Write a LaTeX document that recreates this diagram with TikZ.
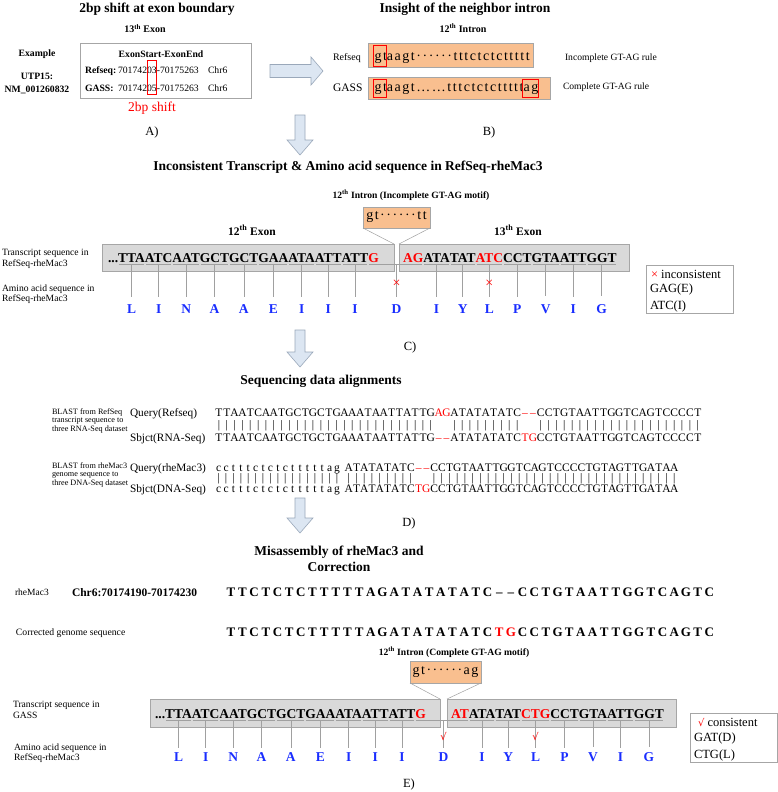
\documentclass[tikz,border=0pt]{standalone}
\usepackage{fontspec}
\setmainfont{Liberation Serif}
\newfontfamily\lsfont[LetterSpace=11]{Liberation Serif}
\newfontfamily\symfont{DejaVu Sans}
\usetikzlibrary{calc}
\definecolor{seqgray}{HTML}{D9D9D9}
\definecolor{edgegray}{HTML}{A6A6A6}
\definecolor{linegray}{HTML}{A0A0A0}
\definecolor{intronorange}{HTML}{F9BF8F}
\definecolor{arrowfill}{HTML}{DCE6F2}
\definecolor{arrowedge}{HTML}{9AA8BA}
\definecolor{aablue}{RGB}{25,45,255}
\definecolor{seqred}{HTML}{FF0000}
\newcommand\fsz[2]{\fontsize{#1}{#2}\selectfont}
\newcommand\rd{\color{seqred}}
\newcommand\midots{\textperiodcentered\textperiodcentered\textperiodcentered}
\begin{document}
\begin{tikzpicture}[x=1pt,y=-1pt,
  every node/.style={inner sep=0pt,outer sep=0pt},
  ttl/.style={font=\fsz{13.5}{16}\bfseries},
  hdr/.style={font=\fsz{10}{12}\bfseries},
  lbl/.style={font=\fsz{9.6}{10.5},align=left,anchor=north west},
  smlbl/.style={font=\fsz{8.2}{8.6},align=left,anchor=north west},
  numA/.style={font=\fsz{9.7}{11},anchor=base west},
  bfA/.style={font=\fsz{9.7}{11}\bfseries},
  plabel/.style={font=\fsz{12.5}{14},anchor=base},
  plainbox/.style={draw=edgegray,fill=white,line width=0.6pt},
  graybox/.style={draw=edgegray,fill=seqgray,line width=0.6pt},
  obox/.style={draw=edgegray,fill=intronorange,line width=0.6pt},
  redframe/.style={draw=seqred,line width=0.8pt},
  lsq/.style={font=\lsfont\fsz{14}{16}},
  seq/.style={font=\fsz{13.5}{16}\bfseries,anchor=base west},
  aa/.style={font=\fsz{13.5}{16}\bfseries,text=aablue},
  uline/.style={draw=linegray,line width=0.5pt},
  arrowshape/.style={draw=arrowedge,fill=arrowfill,line width=0.6pt},
  xmk/.style={font=\fsz{14}{15},text=seqred},
  ckmk/.style={font=\symfont\fsz{10}{11},text=seqred},
  alch/.style={font=\fsz{11.5}{13},anchor=base},
  barglyph/.style={font=\fsz{11.5}{13},anchor=base},
  qlbl/.style={font=\fsz{11.3}{13},anchor=base west},
  eseq/.style={font=\fsz{13}{15}\bfseries,anchor=base},
  lgtxt/.style={font=\fsz{12.5}{14},anchor=base west},
]
\useasboundingbox (0,0) rectangle (778,792);
\fill[white] (0,0) rectangle (778,792);

%% ---------------- Panel A ----------------
\node[ttl,anchor=base] (tA) at (157,12.5) {2bp shift at exon boundary};
\node[hdr,anchor=base] (exA) at (145,32.7) {13\textsuperscript{th} Exon};
\node[bfA,anchor=base] (exmp) at (37,56.5) {Example};
\node[bfA,anchor=base] (utp) at (37,79.5) {UTP15:};
\node[bfA,anchor=base] (nm) at (37,92.5) {NM\_001260832};
\node[plainbox,anchor=north west,minimum width=171pt,minimum height=55pt] (boxA) at (80,43) {};
\node[bfA,anchor=base] (hdA) at (161,57) {ExonStart-ExonEnd};
\node[bfA,anchor=base west] (rfA) at (85,73.5) {Refseq:};
\node[numA] (rfA1) at (118,73.5) {701742};
\node[numA] (rfA2) at (rfA1.base east) {03};
\node[numA] (rfA3) at (rfA2.base east) {-70175263};
\node[numA] (rfA4) at (208,73.5) {Chr6};
\node[bfA,anchor=base west] (gsA) at (85,91.5) {GASS:};
\node[numA] (gsA1) at (118,91.5) {701742};
\node[numA] (gsA2) at (gsA1.base east) {05};
\node[numA] (gsA3) at (gsA2.base east) {-70175263};
\node[numA] (gsA4) at (208,91.5) {Chr6};
\draw[redframe] (rfA2.west |- 0,60) rectangle (gsA2.east |- 0,94);
\node[font=\fsz{13.5}{15},text=seqred,anchor=base] (shiftA) at (152,111) {2bp shift};
\node[plabel] (labA) at (152,135.5) {A)};

%% arrow A -> B
\draw[arrowshape] (270,64.5) -- (311,64.5) -- (311,57) -- (323,71) -- (311,85) -- (311,77.5) -- (270,77.5) -- cycle;

%% ---------------- Panel B ----------------
\node[ttl,anchor=base] (tB) at (465,12.5) {Insight of the neighbor intron};
\node[hdr,anchor=base] (inB) at (463,32.5) {12\textsuperscript{th} Intron};
\node[font=\fsz{10}{12},anchor=base west] (rsB) at (333,60.5) {Refseq};
\node[font=\fsz{11.5}{13},anchor=base west] (gaB) at (333,92) {GASS};
\node[obox,anchor=north west,minimum width=165pt,minimum height=24pt] (bRbox) at (368,43) {};
\node[obox,anchor=north west,minimum width=182pt,minimum height=22pt] (bGbox) at (368,77) {};
\node[lsq,anchor=base west] (bRgt) at (374.5,61) {gt};
\node[lsq,anchor=base west] (bRrest) at (bRgt.base east) {aagt\midots\midots tttctctcttttt};
\draw[redframe] ([xshift=-1.5pt]bRgt.west |- 0,45) rectangle ([xshift=-0.5pt]bRgt.east |- 0,66);
\node[lsq,anchor=base west] (bGgt) at (374.5,92) {gt};
\node[lsq,anchor=base west] (bGrest) at (bGgt.base east) {aagt……tttctctcttttt};
\node[lsq,anchor=base west] (bGag) at (bGrest.base east) {ag};
\draw[redframe] ([xshift=-1.5pt]bGgt.west |- 0,79) rectangle ([xshift=-0.5pt]bGgt.east |- 0,97);
\draw[redframe] ([xshift=-1.5pt]bGag.west |- 0,79) rectangle ([xshift=0.5pt]bGag.east |- 0,97);
\node[font=\fsz{9.6}{11},anchor=base west] (icB) at (565,61) {Incomplete GT-AG rule};
\node[font=\fsz{9.6}{11},anchor=base west] (cpB) at (563,89.5) {Complete GT-AG rule};
\node[plabel] (labB) at (489,135.5) {B)};

%% arrow A -> C
\draw[arrowshape] (295,115) -- (305,115) -- (305,140) -- (313,140) -- (300,155) -- (287,140) -- (295,140) -- cycle;

%% ---------------- Panel C ----------------
\node[ttl,anchor=base] (tC) at (348,170) {Inconsistent Transcript \& Amino acid sequence in RefSeq-rheMac3};
\node[font=\fsz{9.6}{11}\bfseries,anchor=base] (inCl) at (411,198.5) {12\textsuperscript{th} Intron (Incomplete GT-AG motif)};
\node[obox,anchor=north west,minimum width=67pt,minimum height=21pt,font=\lsfont\fsz{14}{16}] (inC) at (363,207) {gt\midots\midots tt};
\node[font=\fsz{11.5}{13}\bfseries,anchor=base] (ex12C) at (252,235) {12\textsuperscript{th} Exon};
\node[font=\fsz{11.5}{13}\bfseries,anchor=base] (ex13C) at (518,235) {13\textsuperscript{th} Exon};
\node[graybox,anchor=north west,minimum width=292pt,minimum height=27pt] (boxCL) at (102,244) {};
\node[graybox,anchor=north west,minimum width=230pt,minimum height=27pt] (boxCR) at (399,244) {};
\draw[uline] (inC.south west) -- (boxCL.north east);
\draw[uline] (inC.south east) -- (boxCR.north west);
\node[lbl] (trC) at (2,249.5) {Transcript sequence in\\RefSeq-rheMac3};
\node[lbl] (amC) at (2,284.5) {Amino acid sequence in\\RefSeq-rheMac3};

\node[seq] (cL0) at (108,262) {...};
\foreach \t [count=\i] in {TTA,ATC,AAT,GCT,GCT,GAA,ATA,ATT,ATT,{\rd G}} {
  \pgfmathtruncatemacro\j{\i-1}
  \node[seq] (cL\i) at (cL\j.base east) {\t};
}
\node[seq] (cR0) at (403,262) {\rd AG};
\foreach \t [count=\i] in {ATA,TAT,{\rd ATC},CCT,GTA,ATT,GGT} {
  \pgfmathtruncatemacro\j{\i-1}
  \node[seq] (cR\i) at (cR\j.base east) {\t};
}
\foreach \i/\a in {1/L,2/I,3/N,4/A,5/A,6/E,7/I,8/I,9/I} {
  \node[aa] (caL\i) at ([yshift=-47pt]cL\i.base) {\a};
  \draw[uline] ([xshift=1pt,yshift=-2.5pt]cL\i.base west) -- ([xshift=-1pt,yshift=-2.5pt]cL\i.base east);
  \draw[uline] ([yshift=-2.5pt]cL\i.base) -- ([yshift=8pt]caL\i.north);
}
\foreach \i/\a in {1/I,2/Y,3/L,4/P,5/V,6/I,7/G} {
  \node[aa] (caR\i) at ([yshift=-47pt]cR\i.base) {\a};
  \draw[uline] ([xshift=1pt,yshift=-2.5pt]cR\i.base west) -- ([xshift=-1pt,yshift=-2.5pt]cR\i.base east);
  \draw[uline] ([yshift=-2.5pt]cR\i.base) -- ([yshift=8pt]caR\i.north);
}
\coordinate (gapC) at ($(boxCL.north east)!0.5!(boxCR.north west)$);
\node[aa] (caD) at (gapC |- caL1) {D};
\draw[uline] ([xshift=1pt,yshift=-2.5pt]cL10.base west) -- ([xshift=-1pt,yshift=-2.5pt]cR0.base east);
\draw[uline] ([yshift=-2.5pt]gapC |- cL10.base) -- ([yshift=8pt]caD.north);
\node[xmk] (xD) at (caD |- 0,284) {×};
\node[xmk] (xL) at (caR3 |- 0,284) {×};

\node[plainbox,anchor=north west,minimum width=87pt,minimum height=48pt] (legC) at (646,265) {};
\node[lgtxt] (legC1) at (651,278) {{\rd ×} inconsistent};
\node[lgtxt] (legC2) at (650,292.5) {GAG(E)};
\node[lgtxt] (legC3) at (650,309.5) {ATC(I)};
\node[plabel] (labC) at (410,350) {C)};

%% arrow C -> D
\draw[arrowshape] (295,330) -- (305,330) -- (305,352) -- (313,352) -- (300,367) -- (287,352) -- (295,352) -- cycle;

%% ---------------- Panel D ----------------
\node[ttl,anchor=base] (tD) at (321,384) {Sequencing data alignments};
\node[smlbl] (blC) at (52,408.5) {BLAST from RefSeq\\transcript sequence to\\three RNA-Seq dataset};
\node[smlbl] (blD) at (52,462.5) {BLAST from rheMac3\\genome sequence to\\three DNA-Seq dataset};
\node[qlbl] (ql1) at (130,416) {Query(Refseq)};
\node[qlbl] (sl1) at (130,441) {Sbjct(RNA-Seq)};
\node[qlbl] (ql2) at (130,471) {Query(rheMac3)};
\node[qlbl] (sl2) at (130,492) {Sbjct(DNA-Seq)};
\foreach \c [count=\i] in {T,T,A,A,T,C,A,A,T,G,C,T,G,C,T,G,A,A,A,T,A,A,T,T,A,T,T,G,{\rd A},{\rd G},A,T,A,T,A,T,A,T,C,{\rd –},{\rd –},C,C,T,G,T,A,A,T,T,G,G,T,C,A,G,T,C,C,C,C,T} {
  \node[alch] (qa\i) at ({215+7.85*(\i-0.5)},416) {\c};
}
\foreach \c [count=\i] in {T,T,A,A,T,C,A,A,T,G,C,T,G,C,T,G,A,A,A,T,A,A,T,T,A,T,T,G,{\rd –},{\rd –},A,T,A,T,A,T,A,T,C,{\rd T},{\rd G},C,C,T,G,T,A,A,T,T,G,G,T,C,A,G,T,C,C,C,C,T} {
  \node[alch] (sa\i) at ({215+7.85*(\i-0.5)},441) {\c};
}
\foreach \i in {1,...,28} {\node[barglyph] (ba\i) at ({215+7.85*(\i-0.5)},428.5) {|};}
\foreach \i in {31,...,39} {\node[barglyph] (ba\i) at ({215+7.85*(\i-0.5)},428.5) {|};}
\foreach \i in {42,...,62} {\node[barglyph] (ba\i) at ({215+7.85*(\i-0.5)},428.5) {|};}

\foreach \c [count=\i] in {c,c,t,t,t,c,t,c,t,c,t,t,t,t,t,a,g} {
  \node[alch] (qbl\i) at ({215+7.4*(\i-0.5)},471) {\c};
  \node[alch] (sbl\i) at ({215+7.4*(\i-0.5)},492) {\c};
  \node[barglyph] (bbl\i) at ({215+7.4*(\i-0.5)},481.5) {|};
}
\foreach \c [count=\i] in {A,T,A,T,A,T,A,T,C,{\rd –},{\rd –},C,C,T,G,T,A,A,T,T,G,G,T,C,A,G,T,C,C,C,C,T,G,T,A,G,T,T,G,A,T,A,A} {
  \node[alch] (qbu\i) at ({345+7.75*(\i-0.5)},471) {\c};
}
\foreach \c [count=\i] in {A,T,A,T,A,T,A,T,C,{\rd T},{\rd G},C,C,T,G,T,A,A,T,T,G,G,T,C,A,G,T,C,C,C,C,T,G,T,A,G,T,T,G,A,T,A,A} {
  \node[alch] (sbu\i) at ({345+7.75*(\i-0.5)},492) {\c};
}
\foreach \i in {1,...,9} {\node[barglyph] (bbu\i) at ({345+7.75*(\i-0.5)},481.5) {|};}
\foreach \i in {12,...,43} {\node[barglyph] (bbu\i) at ({345+7.75*(\i-0.5)},481.5) {|};}
\node[plabel] (labD) at (409,526) {D)};

%% arrow D -> E
\draw[arrowshape] (295,498) -- (305,498) -- (305,518) -- (313,518) -- (300,533) -- (287,518) -- (295,518) -- cycle;

%% ---------------- Panel E ----------------
\node[ttl,align=center,anchor=north] (tE) at (339,546) {Misassembly of rheMac3 and\\Correction};
\node[font=\fsz{9.5}{11},anchor=base west] (rmE) at (15,595.5) {rheMac3};
\node[font=\fsz{11.5}{13}\bfseries,anchor=base west] (chrE) at (72,596) {Chr6:70174190-70174230};
\node[font=\fsz{9.7}{11},anchor=base west] (corE) at (16,635.5) {Corrected genome sequence};
\foreach \c [count=\i] in {T,T,C,T,C,T,C,T,T,T,T,T,A,G,A,T,A,T,A,T,A,T,C,–,–,C,C,T,G,T,A,A,T,T,G,G,T,C,A,G,T,C} {
  \node[eseq] (ea\i) at ({225+11.67*(\i-0.5)},596.5) {\c};
}
\foreach \c [count=\i] in {T,T,C,T,C,T,C,T,T,T,T,T,A,G,A,T,A,T,A,T,A,T,C,{\rd T},{\rd G},C,C,T,G,T,A,A,T,T,G,G,T,C,A,G,T,C} {
  \node[eseq] (eb\i) at ({225+11.67*(\i-0.5)},636.5) {\c};
}
\node[font=\fsz{9.6}{11}\bfseries,anchor=base] (inEl) at (454,655.5) {12\textsuperscript{th} Intron (Complete GT-AG motif)};
\node[obox,anchor=north west,minimum width=71pt,minimum height=22pt,font=\lsfont\fsz{14}{16}] (inE) at (410,661) {gt\midots\midots ag};
\node[graybox,anchor=north west,minimum width=290pt,minimum height=28pt] (boxEL) at (150,699) {};
\node[graybox,anchor=north west,minimum width=229pt,minimum height=28pt] (boxER) at (447,699) {};
\draw[uline] (inE.south west) -- (boxEL.north east);
\draw[uline] (inE.south east) -- (boxER.north west);
\node[lbl] (trE) at (13,701.5) {Transcript sequence in\\GASS};
\node[lbl] (amE) at (14,743.5) {Amino acid sequence in\\RefSeq-rheMac3};

\node[seq] (eL0) at (155,718) {...};
\foreach \t [count=\i] in {TTA,ATC,AAT,GCT,GCT,GAA,ATA,ATT,ATT,{\rd G}} {
  \pgfmathtruncatemacro\j{\i-1}
  \node[seq] (eL\i) at (eL\j.base east) {\t};
}
\node[seq] (eR0) at (451,718) {\rd AT};
\foreach \t [count=\i] in {ATA,TAT,{\rd CTG},CCT,GTA,ATT,GGT} {
  \pgfmathtruncatemacro\j{\i-1}
  \node[seq] (eR\i) at (eR\j.base east) {\t};
}
\foreach \i/\a in {1/L,2/I,3/N,4/A,5/A,6/E,7/I,8/I,9/I} {
  \node[aa] (eaL\i) at ([yshift=-39pt]eL\i.base) {\a};
  \draw[uline] ([xshift=1pt,yshift=-2.5pt]eL\i.base west) -- ([xshift=-1pt,yshift=-2.5pt]eL\i.base east);
  \draw[uline] ([yshift=-2.5pt]eL\i.base) -- ([yshift=5pt]eaL\i.north);
}
\foreach \i/\a in {1/I,2/Y,3/L,4/P,5/V,6/I,7/G} {
  \node[aa] (eaR\i) at ([yshift=-39pt]eR\i.base) {\a};
  \draw[uline] ([xshift=1pt,yshift=-2.5pt]eR\i.base west) -- ([xshift=-1pt,yshift=-2.5pt]eR\i.base east);
  \draw[uline] ([yshift=-2.5pt]eR\i.base) -- ([yshift=5pt]eaR\i.north);
}
\coordinate (gapE) at ($(boxEL.north east)!0.5!(boxER.north west)$);
\node[aa] (eaD) at (gapE |- eaL1) {D};
\draw[uline] ([xshift=1pt,yshift=-2.5pt]eL10.base west) -- ([xshift=-1pt,yshift=-2.5pt]eR0.base east);
\draw[uline] ([yshift=-2.5pt]gapE |- eL10.base) -- ([yshift=5pt]eaD.north);
\node[ckmk] (ckD) at (eaD |- 0,737) {√};
\node[ckmk] (ckL) at (eaR3 |- 0,737) {√};

\node[plainbox,anchor=north west,minimum width=87pt,minimum height=49pt] (legE) at (690,713) {};
\node[lgtxt] (legE1) at (698,726) {{\symfont\fsz{10}{12}\rd √} consistent};
\node[lgtxt] (legE2) at (694,741.5) {GAT(D)};
\node[lgtxt] (legE3) at (694,758) {CTG(L)};
\node[plabel] (labE) at (409,787) {E)};
\end{tikzpicture}
\end{document}
